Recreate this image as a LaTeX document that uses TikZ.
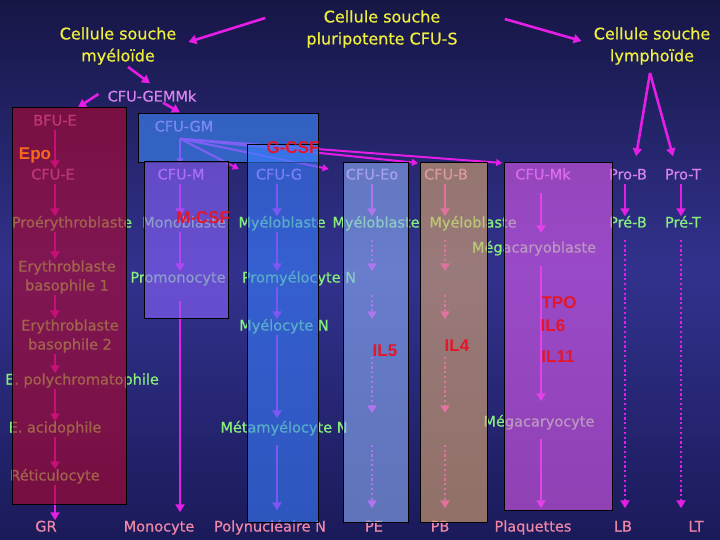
\documentclass[tikz,border=0pt]{standalone}
\usepackage{fontspec}
\setmainfont{DejaVu Sans}[FakeBold=0.6]
\newfontfamily\arialf{Liberation Sans}
\usetikzlibrary{arrows.meta,calc}
\definecolor{bgtop}{RGB}{22,22,70}
\definecolor{bgmid}{RGB}{50,50,142}
\definecolor{bgbot}{RGB}{26,26,90}
\definecolor{ttyellow}{RGB}{240,240,60}
\definecolor{tgreen}{RGB}{135,240,125}
\definecolor{tlav}{RGB}{215,130,238}
\definecolor{tpink}{RGB}{238,135,165}
\definecolor{tred}{RGB}{228,22,42}
\definecolor{torange}{RGB}{248,105,30}
\definecolor{magarr}{RGB}{228,30,228}
\definecolor{bxred}{RGB}{180,5,45}
\definecolor{bxgm}{RGB}{62,140,255}
\definecolor{bxm}{RGB}{140,98,253}
\definecolor{bxg}{RGB}{57,125,253}
\definecolor{bxeo}{RGB}{140,175,245}
\definecolor{bxb}{RGB}{223,170,110}
\definecolor{bxmk}{RGB}{223,90,237}
\tikzset{
  title/.style={text=ttyellow, font=\fontsize{16}{22}\selectfont, align=center, inner sep=1pt},
  item/.style={text=tgreen, font=\fontsize{14.5}{16}\selectfont, text height=10pt, text depth=3pt, inner sep=1pt},
  item2/.style={text=tgreen, font=\fontsize{14.5}{19}\selectfont, align=center, inner sep=1pt},
  head/.style={item, text=tlav},
  bot/.style={item, text=tpink},
  lab/.style={text=tred, font=\arialf\bfseries\fontsize{17}{19}\selectfont, inner sep=1pt},
  arr/.style={draw=magarr, line width=2.6pt, -{Triangle[length=8pt,width=9pt]}},
  darr/.style={arr, dash pattern=on 2.2pt off 2.6pt},
  fan/.style={draw=magarr, line width=2pt, -{Triangle[length=6pt,width=7pt]}},
  box/.style={draw=black, line width=1pt, fill opacity=0.6, draw opacity=1}
}
\begin{document}
\begin{tikzpicture}[x=1pt,y=-1pt]
\useasboundingbox (0,0) rectangle (720,540);
\shade[top color=bgtop, bottom color=bgbot, middle color=bgmid] (0,0) rectangle (720,540);

% titles
\node[title] (pluri) at (382,29) {Cellule souche\\pluripotente CFU-S};
\node[title] (myel) at (118,46) {Cellule souche\\myéloïde};
\node[title] (lymph) at (652,46) {Cellule souche\\lymphoïde};

% column coordinates
\coordinate (cR) at (55,0);
\coordinate (cM) at (180,0);
\coordinate (cG) at (277,0);
\coordinate (cE) at (372,0);
\coordinate (cB) at (445,0);
\coordinate (cK) at (541,0);
\coordinate (cPB) at (625,0);
\coordinate (cPT) at (681,0);

% headings
\node[head] (gemmk) at (152,98) {CFU-GEMMk};
\node[head] (bfue) at (55,122) {BFU-E};
\node[head] (cfugm) at (184,128) {CFU-GM};
\node[head] (cfue) at (53,176) {CFU-E};
\node[head] (cfum) at (181,176) {CFU-M};
\node[head] (cfug) at (279,176) {CFU-G};
\node[head] (cfueo) at (372,176) {CFU-Eo};
\node[head] (cfub) at (446,176) {CFU-B};
\node[head] (cfumk) at (543,176) {CFU-Mk};
\node[head] (prob) at (628,176) {Pro-B};
\node[head] (prot) at (683,176) {Pro-T};

% cell names
\node[item] (proery) at (72,224) {Proérythroblaste};
\node[item] (monob) at (184,224) {Monoblaste};
\node[item] (myb1) at (282,224) {Myéloblaste};
\node[item] (myb2) at (376,224) {Myéloblaste};
\node[item] (myb3) at (473,224) {Myéloblaste};
\node[item] (preb) at (628,224) {Pré-B};
\node[item] (pret) at (683,224) {Pré-T};
\node[item] (megab) at (534,249) {Mégacaryoblaste};
\node[item2] (ery1) at (67,277) {Erythroblaste\\basophile 1};
\node[item] (promo) at (178,279) {Promonocyte};
\node[item] (promy) at (299,279) {Promyélocyte N};
\node[item2] (ery2) at (70,336) {Erythroblaste\\basophile 2};
\node[item] (myelo) at (284,327) {Myélocyte N};
\node[item] (epoly) at (82,381) {E. polychromatophile};
\node[item] (eacid) at (55,429) {E. acidophile};
\node[item] (metam) at (284,429) {Métamyélocyte N};
\node[item] (megac) at (539,423) {Mégacaryocyte};
\node[item] (retic) at (55,477) {Réticulocyte};

% bottom
\node[bot] (gr) at (46,528) {GR};
\node[bot] (mono) at (159,528) {Monocyte};
\node[bot] (poly) at (270,528) {Polynucléaire N};
\node[bot] (pe) at (374,528) {PE};
\node[bot] (pb) at (440,528) {PB};
\node[bot] (plaq) at (533,528) {Plaquettes};
\node[bot] (lb) at (623,528) {LB};
\node[bot] (lt) at (696,528) {LT};

% top arrows
\draw[arr] ($(pluri.west)+(-40,-11)$) -- ($(myel.east)+(11,-4)$);
\draw[arr] ($(pluri.east)+(46,-10)$) -- ($(lymph.west)+(-11,-5)$);
\draw[arr] ($(myel.south)+(10,1)$) -- ($(gemmk.north)+(-2,-7)$) ;
\draw[arr] ($(gemmk.west)+(-8,-4)$) -- ($(bfue.north)+(23,-7)$);
\draw[arr] ($(gemmk.south)+(11,-3)$) -- ($(cfugm.north)+(-4,-8)$);
\draw[arr] ($(lymph.south)+(-2,7)$) -- ($(prob.north)+(8,-12)$);
\draw[arr] ($(lymph.south)+(-2,7)$) -- ($(prot.north)+(-10,-12)$);

% fan from CFU-GM
\coordinate (fan) at ($(cfugm.south)+(-4,3)$);
\draw[fan] (fan) -- ($(cfum.north)+(-1,-4)$);
\draw[fan] (fan) -- ($(cfug.west)+(-16,-7)$);
\draw[fan] (fan) -- ($(cfueo.west)+(-16,-7)$);
\draw[fan] (fan) -- ($(cfub.west)+(-5,-13)$);
\draw[fan] (fan) -- ($(cfumk.west)+(-12,-13)$);

% red column
\draw[arr] (bfue.south -| cR) -- (cfue.north -| cR);
\draw[arr] (cfue.south -| cR) -- (proery.north -| cR);
\draw[arr] (proery.south -| cR) -- (ery1.north -| cR);
\draw[arr] (ery1.south -| cR) -- (ery2.north -| cR);
\draw[arr] (ery2.south -| cR) -- (epoly.north -| cR);
\draw[arr] (epoly.south -| cR) -- (eacid.north -| cR);
\draw[arr] (eacid.south -| cR) -- (retic.north -| cR);
\draw[arr] (retic.south -| cR) -- (gr.north -| cR);

% monocyte column
\draw[arr] (cfum.south -| cM) -- (monob.north -| cM);
\draw[arr] (monob.south -| cM) -- (promo.north -| cM);
\draw[arr, shorten <=14pt, shorten >=8pt] (promo.south -| cM) -- (mono.north -| cM);

% granulocyte N column
\draw[arr] (cfug.south -| cG) -- (myb1.north -| cG);
\draw[arr] (myb1.south -| cG) -- (promy.north -| cG);
\draw[arr] (promy.south -| cG) -- (myelo.north -| cG);
\draw[arr, shorten >=3pt] (myelo.south -| cG) -- (metam.north -| cG);
\draw[arr, shorten <=8pt, shorten >=10pt] (metam.south -| cG) -- (poly.north -| cG);

% eosinophil column
\draw[arr] (cfueo.south -| cE) -- (myb2.north -| cE);
\draw[darr, shorten <=8pt] (myb2.south -| cE) -- (promy.north -| cE);
\draw[darr, shorten <=8pt] (promy.south -| cE) -- (myelo.north -| cE);
\draw[darr, shorten <=22pt, shorten >=8pt] (myelo.south -| cE) -- (metam.north -| cE);
\draw[darr, shorten <=8pt, shorten >=12pt] (metam.south -| cE) -- (pe.north -| cE);

% basophil column
\draw[arr] (cfub.south -| cB) -- (myb3.north -| cB);
\draw[darr, shorten <=8pt] (myb3.south -| cB) -- (promy.north -| cB);
\draw[darr, shorten <=8pt] (promy.south -| cB) -- (myelo.north -| cB);
\draw[darr, shorten <=22pt, shorten >=8pt] (myelo.south -| cB) -- (metam.north -| cB);
\draw[darr, shorten <=8pt, shorten >=12pt] (metam.south -| cB) -- (pb.north -| cB);

% megakaryocyte column
\draw[arr, shorten <=9pt, shorten >=8pt] (cfumk.south -| cK) -- (megab.north -| cK);
\draw[arr, shorten <=9pt, shorten >=14pt] (megab.south -| cK) -- (megac.north -| cK);
\draw[arr, shorten <=8pt, shorten >=12pt] (megac.south -| cK) -- (plaq.north -| cK);

% lymphoid
\draw[arr] (prob.south -| cPB) -- (preb.north -| cPB);
\draw[arr] (prot.south -| cPT) -- (pret.north -| cPT);
\draw[darr, shorten <=8pt, shorten >=12pt] (preb.south -| cPB) -- (lb.north -| cPB);
\draw[darr, shorten <=8pt, shorten >=12pt] (pret.south -| cPT) -- (lt.north -| cPT);

% overlay boxes
\draw[box, fill=bxred] (12,108) rectangle (126,504);
\draw[box, fill=bxgm] (138,114) rectangle (318,163);
\draw[box, fill=bxm] (144,162) rectangle (228,318);
\draw[box, fill=bxg] (247,145) rectangle (318,522);
\draw[box, fill=bxeo] (343,163) rectangle (408,522);
\draw[box, fill=bxb] (420,163) rectangle (487,522);
\draw[box, fill=bxmk] (504,163) rectangle (612,510);

% factor labels
\node[lab, text=torange] (epo) at (35,155) {Epo};
\node[lab] (gcsf) at (293,148) {G-CSF};
\node[lab] (mcsf) at (203,218) {M-CSF};
\node[lab] (tpo) at (559,303) {TPO};
\node[lab] (il6) at (553,326) {IL6};
\node[lab] (il11) at (558,357) {IL11};
\node[lab] (il5) at (385,351) {IL5};
\node[lab] (il4) at (457,346) {IL4};
\end{tikzpicture}
\end{document}
